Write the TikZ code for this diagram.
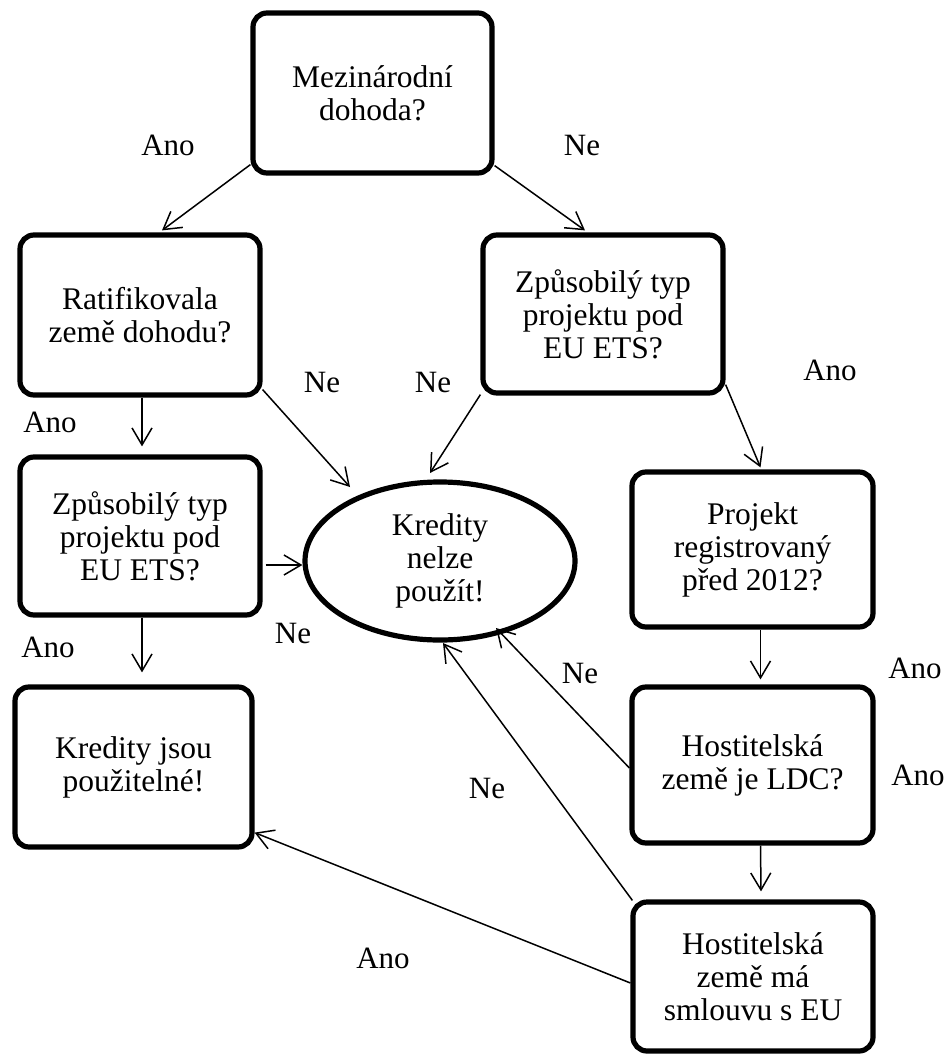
\documentclass[tikz,border=0pt]{standalone}
\usepackage{fontspec}
\setmainfont{Liberation Serif}
\usetikzlibrary{arrows.meta,shapes.geometric,calc}
\begin{document}
\begin{tikzpicture}[x=1pt,y=1pt,
  box/.style={draw, line width=5.2pt, rounded corners=14pt, align=center,
    font=\fontsize{31.5}{33}\selectfont, inner sep=0pt, minimum width=240pt},
  ovalbox/.style={draw, ellipse, line width=5.2pt, align=center,
    font=\fontsize{31.5}{33}\selectfont, inner sep=0pt},
  arr/.style={-{Straight Barb[length=17pt,width=20pt]}, line width=1.5pt},
  lab/.style={font=\fontsize{31}{33}\selectfont, anchor=base, inner sep=0pt}]
\useasboundingbox (0,0) rectangle (950,-1054);

\node[box, minimum width=239pt, minimum height=160pt] (top) at (372.5,-93) {Mezinárodní\\dohoda?};
\node[box, minimum height=160pt] (rat) at (140,-315) {Ratifikovala\\země dohodu?};
\node[box, minimum height=158pt] (zpa) at (603,-314) {Způsobilý typ\\projektu pod\\EU ETS?};
\node[box, minimum height=158pt] (zpb) at (140,-536) {Způsobilý typ\\projektu pod\\EU ETS?};
\node[ovalbox, minimum width=270pt, minimum height=158pt] (ell) at (440,-561) {Kredity\\nelze\\použít!};
\node[box, minimum width=241pt, minimum height=155pt] (proj) at (752.5,-549.5) {Projekt\\registrovaný\\před 2012?};
\node[box, minimum width=241pt, minimum height=156pt] (ldc) at (752.5,-765) {Hostitelská\\země je LDC?};
\node[box, minimum width=240pt, minimum height=149pt] (sml) at (753,-976.5) {Hostitelská\\země má\\smlouvu s EU};
\node[box, minimum width=237pt, minimum height=160pt] (ok) at (133.5,-767) {Kredity jsou\\použitelné!};

\draw[arr] ([yshift=11pt]top.south west) -- ([xshift=22pt,yshift=2pt]rat.north);
\draw[arr] ([yshift=10pt]top.south east) -- ([xshift=-18pt,yshift=2pt]zpa.north);
\draw[arr] ([xshift=2pt]rat.south) -- ([xshift=2pt,yshift=8pt]zpb.north);
\draw[arr] ([yshift=8pt]rat.south east) -- ([shift={(-90pt,74pt)}]ell.center);
\draw[arr] ([yshift=1pt]zpa.south west) -- ([shift={(-10pt,88pt)}]ell.center);
\draw[arr] ([yshift=11pt]zpa.south east) -- ([xshift=8pt,yshift=2pt]proj.north);
\draw[arr] ([xshift=3pt,yshift=-29pt]zpb.east) -- ([yshift=-4pt]ell.west);
\draw[arr] ([xshift=2pt]zpb.south) -- ([xshift=8.5pt,yshift=12pt]ok.north);
\draw[arr] ([xshift=8pt]proj.south) -- ([xshift=8pt,yshift=5pt]ldc.north);
\draw[arr] ([yshift=-3pt]ldc.west) -- ([shift={(56pt,-67pt)}]ell.center);
\draw[arr] ([xshift=8pt]ldc.south) -- ([xshift=8pt,yshift=8pt]sml.north);
\draw[arr] ([xshift=2pt,yshift=-1pt]sml.north west) -- ([shift={(3pt,-82pt)}]ell.center);
\draw[arr] ([yshift=-6.5pt]sml.west) -- ([yshift=17pt]ok.south east);

\node[lab] (l1) at (168,-155) {Ano};
\node[lab] (l2) at (582,-155) {Ne};
\node[lab] (l3) at (322,-392) {Ne};
\node[lab] (l4) at (433,-392) {Ne};
\node[lab] (l5) at (50,-432) {Ano};
\node[lab] (l6) at (830,-380) {Ano};
\node[lab] (l7) at (293,-643) {Ne};
\node[lab] (l8) at (48,-657) {Ano};
\node[lab] (l9) at (580,-683) {Ne};
\node[lab] (l10) at (915,-678) {Ano};
\node[lab] (l11) at (487,-798) {Ne};
\node[lab] (l12) at (918,-785) {Ano};
\node[lab] (l13) at (383,-968) {Ano};
\end{tikzpicture}
\end{document}
